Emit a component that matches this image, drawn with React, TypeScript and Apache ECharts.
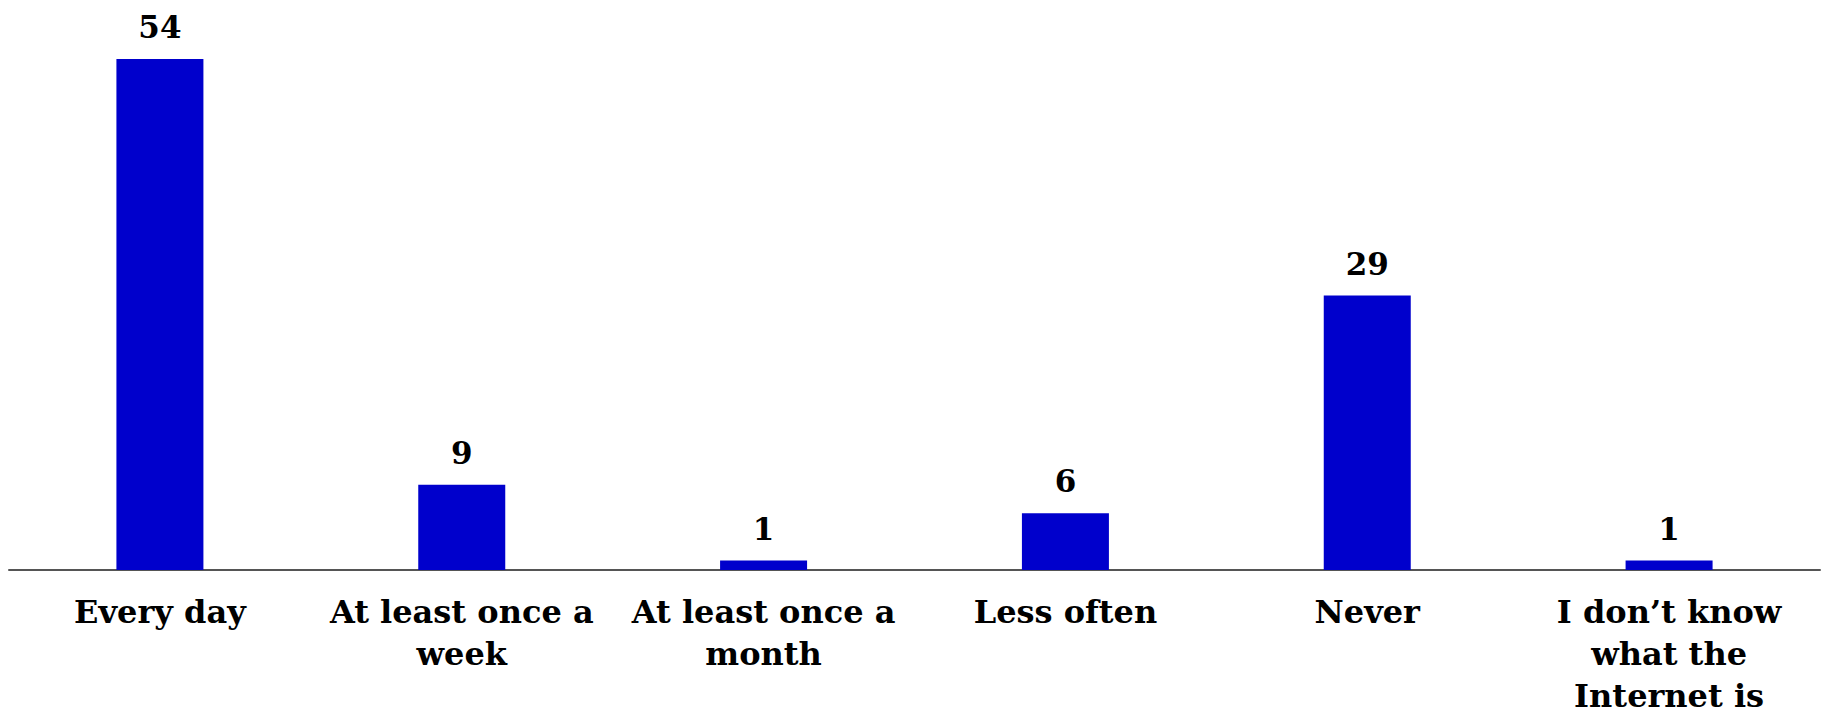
import React, { useEffect, useRef } from "react";
import * as echarts from "echarts";

const categories: string[] = [
  "Every day",
  "At least once a\nweek",
  "At least once a\nmonth",
  "Less often",
  "Never",
  "I don\u2019t know\nwhat the\nInternet is",
];
const values: number[] = [54, 9, 1, 6, 29, 1];

const FONT = "'DejaVu Serif', serif";

export default function App() {
  const ref = useRef<HTMLDivElement>(null);
  useEffect(() => {
    if (!ref.current) return;
    const chart = echarts.init(ref.current, undefined, { renderer: "svg" });
    chart.setOption({
      animation: false,
      backgroundColor: "#ffffff",
      grid: { left: 9, right: 4, top: 59, bottom: 140, containLabel: false },
      xAxis: {
        type: "category",
        data: categories,
        axisLine: { lineStyle: { color: "#555555", width: 2 } },
        axisTick: { show: false },
        axisLabel: {
          interval: 0,
          margin: 21,
          color: "#000000",
          fontFamily: FONT,
          fontWeight: "bold",
          fontSize: 32,
          lineHeight: 42,
        },
      },
      yAxis: {
        type: "value",
        min: 0,
        max: 54,
        show: false,
        splitLine: { show: false },
      },
      series: [
        {
          type: "bar",
          data: values,
          barWidth: 87,
          itemStyle: { color: "#0000CC" },
          label: {
            show: true,
            position: "top",
            distance: 14,
            color: "#000000",
            fontFamily: FONT,
            fontWeight: "bold",
            fontSize: 31,
            lineHeight: 36,
          },
        },
      ],
    });
    return () => chart.dispose();
  }, []);
  return (
    <div
      ref={ref}
      style={{ position: "absolute", left: 0, top: 0, width: 1824, height: 717 }}
    />
  );
}
